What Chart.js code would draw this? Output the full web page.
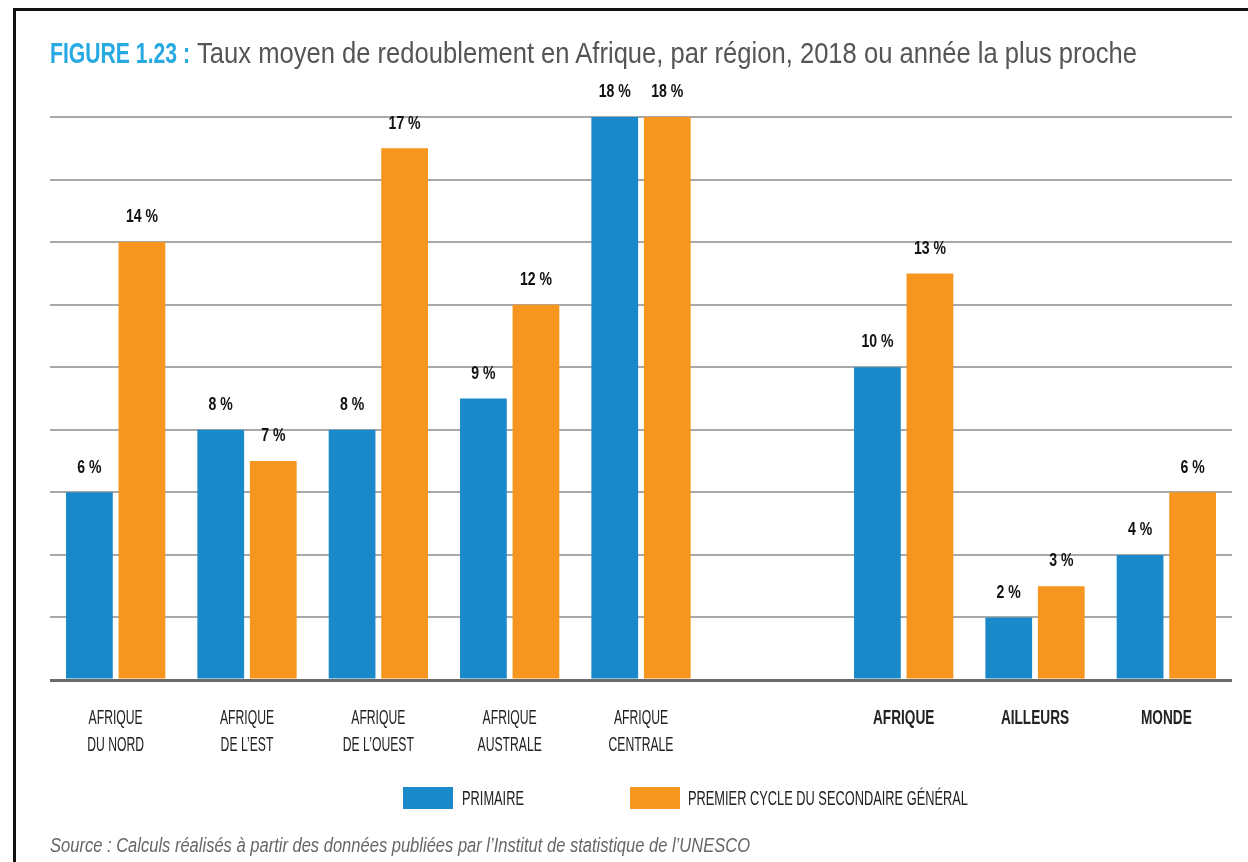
<!DOCTYPE html>
<html lang="fr">
<head>
<meta charset="utf-8">
<script src="https://cdn.jsdelivr.net/npm/chart.js@4.4.1/dist/chart.umd.min.js"></script>
<style>
    html, body { margin: 0; padding: 0; background: #fff; }
    body { width: 1248px; height: 862px; position: relative; overflow: hidden;
           font-family: "Liberation Sans", Arial, sans-serif; }
    #frame { position: absolute; left: 13px; top: 8px; right: 0; bottom: 0;
             border-left: 3px solid #111; border-top: 3px solid #111; }
    #chart-box { position: absolute; left: 0; top: 0; width: 1248px; height: 862px; }
    .serre { display: inline-block; transform-origin: 0 50%; white-space: nowrap; }
    .titre { position: absolute; top: 36px; font-size: 30px; color: #555; }
    .titre.num { color: #27a9e1; font-weight: bold; }
    .boite { position: absolute; top: 787px; width: 50px; height: 22px; }
    .leg { position: absolute; top: 786px; font-size: 21px; line-height: 24px; color: #222; }
    #source { position: absolute; left: 50px; top: 834px; font-size: 20px; font-style: italic; color: #666; }
</style>
</head>
<body>
<div id="frame"></div>
<div id="chart-box"><canvas id="redoublement"></canvas></div>
<div class="titre num serre" style="left:50px" data-w="140">FIGURE 1.23 :</div>
<div class="titre serre" style="left:197px" data-w="940">Taux moyen de redoublement en Afrique, par région, 2018 ou année la plus proche</div>
<div class="boite" style="left:403px;background:#1a89c9"></div>
<div class="leg serre" style="left:462px" data-w="62">PRIMAIRE</div>
<div class="boite" style="left:630px;background:#f6961e"></div>
<div class="leg serre" style="left:688px" data-w="280">PREMIER CYCLE DU SECONDAIRE GÉNÉRAL</div>
<div id="source" class="serre" data-w="700">Source : Calculs réalisés à partir des données publiées par l’Institut de statistique de l’UNESCO</div>

<script>
// categories (la case vide fait l'espace entre régions et agrégats)
const regions = [
    ["AFRIQUE", "DU NORD"],
    ["AFRIQUE", "DE L’EST"],
    ["AFRIQUE", "DE L’OUEST"],
    ["AFRIQUE", "AUSTRALE"],
    ["AFRIQUE", "CENTRALE"],
    "",
    "AFRIQUE",
    "AILLEURS",
    "MONDE"
];
const primaire = [6, 8, 8, 9, 18, null, 10, 2, 4];
const secondaire = [14, 7, 17, 12, 18, null, 13, 3, 6];
const yTicks = [0, 2, 4, 6, 8, 10, 12, 14, 16, 18];

const BLEU = "#1a89c9";
const ORANGE = "#f6961e";
const POLICE = "'Liberation Sans', Arial, sans-serif";

// pas de police condensée installée : on resserre le texte à la main
function texteSerre(ctx, txt, x, y, sx) {
    ctx.save();
    ctx.translate(x, y);
    ctx.scale(sx, 1);
    ctx.fillText(txt, 0, 0);
    ctx.restore();
}

// étiquettes au-dessus des barres + libellés de l'axe x
const etiquettes = {
    id: "etiquettes",
    afterDatasetsDraw(chart) {
        const ctx = chart.ctx;
        ctx.save();
        ctx.fillStyle = "#111";
        ctx.textAlign = "center";
        ctx.textBaseline = "middle";
        ctx.font = "bold 19px " + POLICE;
        chart.data.datasets.forEach((ds, i) => {
            chart.getDatasetMeta(i).data.forEach((bar, j) => {
                const v = ds.data[j];
                if (v === null) return;
                texteSerre(ctx, v + " %", bar.x, bar.y - 25, 0.74);
            });
        });

        const xs = chart.scales.x;
        xs.getLabels().forEach((lab, i) => {
            const lignes = Array.isArray(lab) ? lab : [lab];
            ctx.font = (i >= 6 ? "bold " : "") + "21px " + POLICE;
            ctx.fillStyle = "#222";
            const x = xs.getPixelForValue(i);
            lignes.forEach((l, k) => {
                texteSerre(ctx, l, x, 718 + k * 27, i >= 6 ? 0.65 : 0.58);
            });
        });
        ctx.restore();
    }
};

document.addEventListener("DOMContentLoaded", function () {
    // ajuster les textes HTML à la largeur de l'original
    document.querySelectorAll(".serre").forEach(el => {
        const w = el.getBoundingClientRect().width;
        el.style.transform = "scaleX(" + (el.dataset.w / w) + ")";
    });

    const ctx = document.getElementById("redoublement").getContext("2d");

    new Chart(ctx, {
        type: "bar",
        data: {
            labels: regions,
            datasets: [
                { label: "PRIMAIRE", data: primaire, backgroundColor: BLEU },
                { label: "PREMIER CYCLE DU SECONDAIRE GÉNÉRAL", data: secondaire, backgroundColor: ORANGE }
            ]
        },
        options: {
            responsive: true,
            maintainAspectRatio: false,
            animation: false,
            categoryPercentage: 0.8,
            barPercentage: 0.89,
            layout: { padding: { left: 50, right: 16, top: 117, bottom: 0 } },
            plugins: {
                legend: { display: false },
                tooltip: { enabled: false }
            },
            scales: {
                x: {
                    grid: { display: false, drawTicks: false },
                    border: { display: false },
                    afterFit: s => { s.height = 182; },
                    ticks: { display: false, autoSkip: false }
                },
                y: {
                    min: 0,
                    max: 18,
                    afterFit: s => { s.width = 0; },
                    afterBuildTicks: s => { s.ticks = yTicks.map(v => ({ value: v })); },
                    ticks: { display: false },
                    border: { display: false },
                    grid: {
                        drawTicks: false,
                        color: c => c.tick.value === 0 ? "#6b6b6b" : "#a8a8a8",
                        lineWidth: c => c.tick.value === 0 ? 3 : 2
                    }
                }
            }
        },
        plugins: [etiquettes]
    });
});
</script>
</body>
</html>
